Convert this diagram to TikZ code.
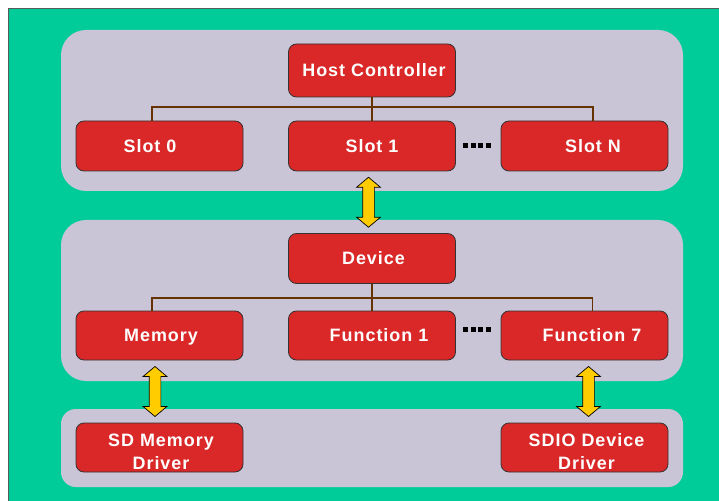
\documentclass[tikz,border=0pt]{standalone}
\usepackage{fontspec}
\setmainfont{Liberation Sans}
\newfontfamily\boxfont{Liberation Sans}[LetterSpace=5.5]
\usetikzlibrary{calc,shapes.arrows}

\definecolor{bgGreen}{RGB}{0,204,153}
\definecolor{panelGray}{RGB}{201,197,215}
\definecolor{boxRed}{RGB}{217,40,39}
\definecolor{wireBrown}{RGB}{102,51,0}
\definecolor{arrowYellow}{RGB}{255,204,0}

\tikzset{
  panel/.style={fill=panelGray, draw=none},
  block/.style={rectangle, rounded corners=8bp, fill=boxRed, draw=black!80,
    line width=0.8bp, minimum width=167bp, minimum height=50bp, inner sep=0pt,
    text=white, align=center, text height=12.9bp, text depth=0pt,
    font=\boxfont\bfseries\fontsize{18}{23}\selectfont},
  twoline/.style={text height=43.9bp, text depth=0pt},
  wire/.style={draw=wireBrown, line width=1.8bp},
  link/.style={shape=double arrow, rotate=90, fill=arrowYellow, draw=black,
    line width=0.7bp, minimum height=50bp, minimum width=23bp,
    inner xsep=0pt, inner ysep=5.5bp,
    double arrow head extend=6bp, double arrow tip angle=100},
  dots/.style={inner sep=0pt}
}

\newcommand{\dotsq}{\rule{5bp}{5bp}}
\newcommand{\fourdots}{\dotsq\hspace{2.7bp}\dotsq\hspace{2.7bp}\dotsq\hspace{2.7bp}\dotsq}

\begin{document}
\begin{tikzpicture}[x=1bp, y=-1bp]
  \useasboundingbox (0,0) rectangle (719,501);
  \clip (0,0) rectangle (719,501);
  \fill[white] (0,0) rectangle (719,501);

  % outer frame
  \draw[fill=bgGreen, draw=black!65, line width=1bp] (8,9) rectangle (730,512);

  % layer panels
  \fill[panel, rounded corners=25bp] (61,30) rectangle (683,191);
  \fill[panel, rounded corners=25bp] (61,220) rectangle (683,381);
  \fill[panel, rounded corners=15bp] (61,409) rectangle (683,487);

  % host side
  \node[block, minimum height=53bp] (host) at (372,70.5) {\hspace*{4bp}Host Controller};
  \node[block] (slot0) at (159.5,146) {Slot 0\hspace*{19bp}};
  \node[block] (slot1) at (372,146) {Slot 1};
  \node[block] (slotN) at (584.5,146) {\hspace*{17bp}Slot N};
  \node[dots] (dotsA) at (477,145.5) {\fourdots};

  % device side
  \node[block] (device) at (372,258.5) {\hspace*{3bp}Device};
  \node[block, minimum height=49bp] (memory) at (159.5,335.5) {\hspace*{3bp}Memory};
  \node[block, minimum height=49bp] (func1) at (372,335.5) {\hspace*{14bp}Function 1};
  \node[block, minimum height=49bp] (func7) at (584.5,335.5) {\hspace*{15bp}Function 7};
  \node[dots] (dotsB) at (477,329.5) {\fourdots};

  % drivers
  \node[block, twoline, minimum height=49bp] (sdmem) at (159.5,447.5) {\hspace*{3bp}SD Memory\\\hspace*{3bp}Driver};
  \node[block, twoline, minimum height=49bp] (sdio) at (584.5,447.5) {\hspace*{4bp}SDIO Device\\\hspace*{4bp}Driver};

  % tree wiring
  \coordinate (hostBus) at ($(host.south)+(0,10)$);
  \draw[wire] (host.south) -- (slot1.north);
  \draw[wire] ([xshift=-7.5bp]slot0.north) |- (hostBus) -| ([xshift=8.5bp]slotN.north);

  \coordinate (devBus) at ($(device.south)+(0,14)$);
  \draw[wire] (device.south) -- (func1.north);
  \draw[wire] ([xshift=-7.5bp]memory.north) |- (devBus) -| ([xshift=8bp]func7.north);

  % links between layers
  \node[link] (linkTop) at ($(slot1.south)!0.5!(device.north)+(-3.5,0)$) {};
  \node[link] (linkMem) at ($(memory.south)!0.5!(sdmem.north)+(-4.5,0)$) {};
  \node[link] (linkDrv) at ($(func7.south)!0.5!(sdio.north)+(4,0)$) {};
\end{tikzpicture}
\end{document}
